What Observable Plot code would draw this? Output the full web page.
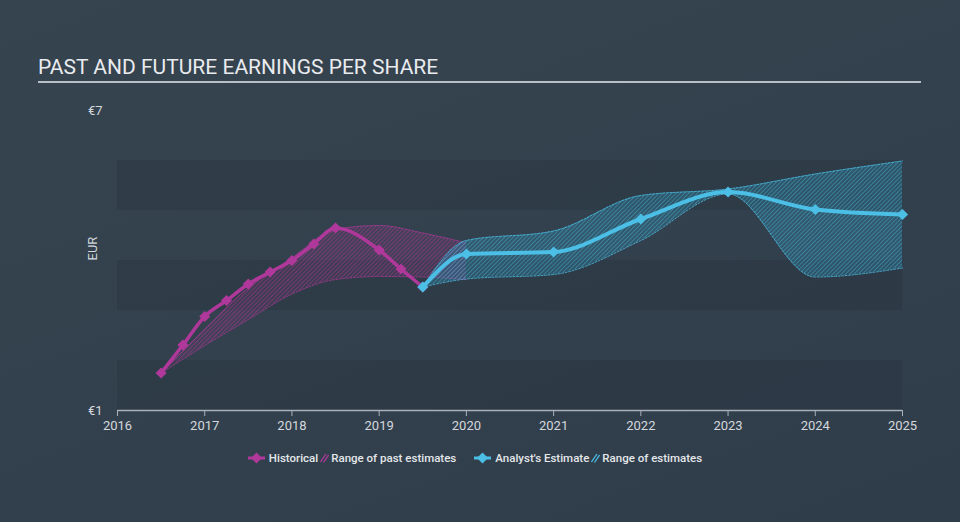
<!DOCTYPE html>
<html>
<head>
<meta charset="utf-8">
<script src="https://cdn.jsdelivr.net/npm/d3@7"></script>
<script src="https://cdn.jsdelivr.net/npm/@observablehq/plot@0.6"></script>
<style>
  html, body { margin: 0; padding: 0; }
  body {
    width: 960px; height: 522px; overflow: hidden; position: relative;
    background: linear-gradient(160deg, #36444f 0%, #33414e 50%, #2f3c4a 100%);
    font-family: Roboto, "Noto Sans", sans-serif;
  }
  #title {
    position: absolute; left: 38px; top: 55px;
    font-size: 21px; line-height: 24px; color: #e9ebee;
  }
  #rule { position: absolute; left: 38px; top: 81px; width: 883px; height: 2px; background: #b9bfc6; }
  #chart { position: absolute; left: 0; top: 95px; }
  #legend {
    position: absolute; left: 0; top: 449px; width: 950px; height: 18px;
    display: flex; justify-content: center; align-items: center;
    font-size: 11.5px; font-weight: 500; color: #e4e7ea;
  }
  #legend .item { display: flex; align-items: center; }
  #legend svg { display: block; }
  #legend .gap { width: 18px; }
</style>
</head>
<body>
<div id="title">PAST AND FUTURE EARNINGS PER SHARE</div>
<div id="rule"></div>
<div id="chart"></div>
<div id="legend"></div>
<script>
// ---- data ----
const histYears = [2016.5, 2016.75, 2017, 2017.25, 2017.5, 2017.75, 2018, 2018.25, 2018.5, 2019, 2019.25, 2019.5];
const histEPS   = [1.75, 2.31, 2.88, 3.2, 3.53, 3.77, 4.0, 4.33, 4.65, 4.21, 3.83, 3.47];

const pastRangeYears = [2016.5, 2017, 2017.5, 2018, 2018.5, 2019, 2019.5, 2020];
const pastRangeLow   = [1.75, 2.3, 2.82, 3.33, 3.62, 3.68, 3.67, 3.62];
const pastRangeHigh  = [1.75, 2.62, 3.45, 4.05, 4.62, 4.7, 4.55, 4.35];

const forecastYears = [2019.5, 2020, 2021, 2022, 2023, 2024, 2025];
const forecastEPS   = [3.47, 4.13, 4.17, 4.83, 5.37, 5.02, 4.92];
const forecastLow   = [3.47, 3.63, 3.72, 4.4, 5.33, 3.67, 3.85];
const forecastHigh  = [3.47, 4.4, 4.59, 5.3, 5.43, 5.73, 5.99];

const xTicks = [2016, 2017, 2018, 2019, 2020, 2021, 2022, 2023, 2024, 2025];
const yTicks = [1, 7];
const yBandStarts = [1, 3, 5];

const seriesNames = ["Historical", "Range of past estimates", "Analyst's Estimate", "Range of estimates"];

// ---- tables ----
const hist = histYears.map((year, i) => ({year, eps: histEPS[i]}));
const pastRange = pastRangeYears.map((year, i) => ({year, low: pastRangeLow[i], high: pastRangeHigh[i]}));
const forecast = forecastYears.map((year, i) => ({year, eps: forecastEPS[i], low: forecastLow[i], high: forecastHigh[i]}));

const MAG = "#b0389a";
const CYA = "#4cbfe6";
const AXIS = "#a9b1ba";
const TXT = "#d4d8dd";

const chart = Plot.plot({
  width: 960,
  height: 345,
  marginLeft: 117,
  marginRight: 58,
  marginTop: 15,
  marginBottom: 30,
  style: {background: "transparent", fontFamily: "Roboto, sans-serif"},
  x: {domain: [xTicks[0], xTicks[xTicks.length - 1]], label: null},
  y: {domain: [yTicks[0], yTicks[1]], label: null},
  marks: [
    Plot.rect(yBandStarts, {y1: d => d, y2: d => d + 1, fill: "#1c2733", fillOpacity: 0.2}),
    Plot.areaY(pastRange, {x: "year", y1: "low", y2: "high", curve: "monotone-x", fill: "url(#hatchPast)"}),
    Plot.line(pastRange, {x: "year", y: "low", curve: "monotone-x", stroke: MAG, strokeWidth: 1, strokeDasharray: "2,1.5", strokeOpacity: 0.8}),
    Plot.line(pastRange, {x: "year", y: "high", curve: "monotone-x", stroke: MAG, strokeWidth: 1, strokeDasharray: "2,1.5", strokeOpacity: 0.8}),
    Plot.areaY(forecast, {x: "year", y1: "low", y2: "high", curve: "monotone-x", fill: "url(#hatchFut)"}),
    Plot.line(forecast, {x: "year", y: "low", curve: "monotone-x", stroke: CYA, strokeWidth: 1, strokeDasharray: "2,1.5", strokeOpacity: 0.8}),
    Plot.line(forecast, {x: "year", y: "high", curve: "monotone-x", stroke: CYA, strokeWidth: 1, strokeDasharray: "2,1.5", strokeOpacity: 0.8}),
    Plot.ruleY([yTicks[0]], {stroke: AXIS, strokeWidth: 1.5}),
    Plot.axisX({ticks: xTicks, tickSize: 6, tickFormat: () => "", color: AXIS, label: null}),
    Plot.axisX({ticks: xTicks, tickSize: 0, tickPadding: 10, tickFormat: d => String(d), color: TXT, fontSize: 13, label: null}),
    Plot.axisY({ticks: yTicks, tickSize: 0, tickPadding: 15, tickFormat: d => "€" + d, color: TXT, fontSize: 13, label: null}),
    Plot.text(["EUR"], {frameAnchor: "left", rotate: -90, dx: -25, fill: TXT, fontSize: 13}),
    Plot.line(hist, {x: "year", y: "eps", curve: "monotone-x", stroke: MAG, strokeWidth: 3.5}),
    Plot.dot(hist, {x: "year", y: "eps", symbol: "diamond2", r: 5, fill: MAG}),
    Plot.line(forecast, {x: "year", y: "eps", curve: "monotone-x", stroke: CYA, strokeWidth: 4}),
    Plot.dot(forecast, {x: "year", y: "eps", symbol: "diamond2", r: 5, fill: CYA})
  ]
});

d3.select(chart).insert("defs", ":first-child").html(`
  <pattern id="hatchPast" width="3" height="3" patternUnits="userSpaceOnUse" patternTransform="rotate(45)">
    <rect width="3" height="3" fill="${MAG}" fill-opacity="0.12"></rect>
    <line x1="1.5" y1="0" x2="1.5" y2="3" stroke="${MAG}" stroke-width="0.9" stroke-opacity="0.55"></line>
  </pattern>
  <pattern id="hatchFut" width="3" height="3" patternUnits="userSpaceOnUse" patternTransform="rotate(45)">
    <rect width="3" height="3" fill="#2e8fb5" fill-opacity="0.3"></rect>
    <line x1="1.5" y1="0" x2="1.5" y2="3" stroke="${CYA}" stroke-width="0.9" stroke-opacity="0.45"></line>
  </pattern>
`);
document.getElementById("chart").appendChild(chart);

// ---- legend ----
function markerSvg(color) {
  return `<svg width="17" height="12" viewBox="0 0 17 12"><line x1="0" y1="6" x2="17" y2="6" stroke="${color}" stroke-width="3"/><path d="M8.5 0.5 L14 6 L8.5 11.5 L3 6 Z" fill="${color}"/></svg>`;
}
function hatchSvg(color) {
  return `<svg width="9" height="10" viewBox="0 0 9 10"><line x1="0.5" y1="9" x2="6" y2="1" stroke="${color}" stroke-width="1.3"/><line x1="3.5" y1="9.5" x2="8.5" y2="2" stroke="${color}" stroke-width="1.3"/></svg>`;
}
const legend = document.getElementById("legend");
legend.innerHTML = `
  <span class="item">${markerSvg(MAG)}<span style="margin-left:4px">${seriesNames[0]}</span></span>
  <span class="item" style="margin-left:2px">${hatchSvg(MAG)}<span style="margin-left:2px">${seriesNames[1]}</span></span>
  <span class="gap"></span>
  <span class="item">${markerSvg(CYA)}<span style="margin-left:4px">${seriesNames[2]}</span></span>
  <span class="item" style="margin-left:2px">${hatchSvg(CYA)}<span style="margin-left:2px">${seriesNames[3]}</span></span>
`;
</script>
</body>
</html>
